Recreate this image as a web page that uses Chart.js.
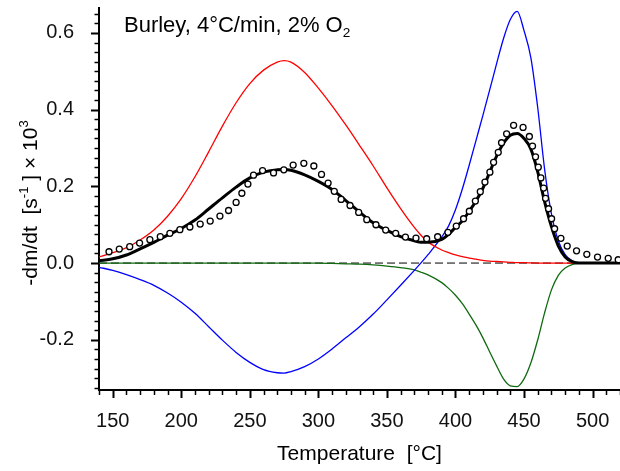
<!DOCTYPE html>
<html>
<head>
<meta charset="utf-8">
<script src="https://cdn.jsdelivr.net/npm/chart.js@4.4.1/dist/chart.umd.min.js"></script>
<style>
  html, body { margin: 0; padding: 0; background: #fff; }
  #wrap { width: 620px; height: 471px; }
</style>
</head>
<body>
<div id="wrap"><canvas id="chart" width="620" height="471"></canvas></div>
<script>
// temperature grid of the model curves [°C]
const modelT = [140,150,160,170,180,190,200,210,220,230,240,250,260,270,275,280,
  290,300,310,320,330,340,350,360,370,375,380,390,
  395,400,405,410,415,420,425,430,435,440,445,450,455,460,465,470,475,480,485,490,
  500,510,520];

// red, first reaction step
const redCurve = [.016,.027,.040,.060,.086,.122,.168,.225,.290,.357,.418,.468,.503,.524,.528,.524,
  .497,.456,.410,.360,.307,.253,.196,.142,.093,.072,.055,.034,
  .027,.021,.017,.013,.010,.007,.005,.004,.003,.002,.001,.001,.0005,0,0,0,0,0,0,0,
  0,0,0];

// blue, second step
const blueCurve = [-.011,-.019,-.030,-.043,-.058,-.078,-.102,-.131,-.166,-.201,-.233,-.259,-.278,-.286,-.287,-.283,
  -.270,-.250,-.224,-.195,-.166,-.133,-.096,-.058,-.019,.001,.022,.068,
  .097,.139,.193,.255,.320,.385,.452,.520,.585,.635,.656,.606,.535,.405,.245,.128,.058,.022,.006,.001,
  0,0,0];

// green, third step
const greenCurve = [0,0,0,0,0,0,0,0,0,0,0,0,0,0,0,0,
  0,0,-.001,-.002,-.003,-.005,-.008,-.012,-.018,-.024,-.031,-.051,
  -.066,-.084,-.106,-.133,-.162,-.195,-.232,-.268,-.302,-.320,-.322,-.302,-.260,-.200,-.130,-.070,-.032,-.013,-.004,-.001,
  0,0,0];

// black, total fit
const fitCurve = [.006,.011,.021,.037,.054,.073,.090,.112,.141,.170,.198,.222,.237,.243,.244,.242,
  .230,.213,.192,.163,.133,.105,.085,.069,.058,.054,.054,.062,
  .075,.093,.110,.135,.162,.195,.237,.279,.312,.333,.338,.325,.297,.238,.160,.095,.045,.016,.004,0,
  0,0,0];

// measured points (circles)
const expT = [147.3,154.8,162.4,169.6,177.1,184.7,191.7,199.0,206.3,213.8,221.1,228.2,234.5,240.0,244.2,248.6,
  252.7,259.3,267.3,274.8,281.6,289.4,296.7,302.3,307.1,311.6,316.6,323.1,329.4,335.3,342.0,349.1,
  356.4,363.5,371.2,379.0,387.0,394.5,400.6,405.9,410.1,414.5,418.1,421.5,425.1,427.8,431.2,433.6,
  437.3,442.4,449.3,453.9,456.2,458.4,460.4,462.3,464.3,465.7,467.9,470.1,472.3,476.9,481.5,488.3,
  495.8,503.6,511.4,518.7];
const expRate = [.0295,.0365,.0426,.052,.061,.0687,.0774,.087,.094,.1017,.1095,.1226,.137,.158,.182,.206,
  .229,.241,.235,.243,.2555,.260,.253,.231,.2086,.187,.166,.150,.132,.113,.0999,.086,
  .0774,.0678,.065,.0634,.0686,.080,.0965,.1155,.135,.1617,.186,.211,.237,.2626,.2886,.3137,
  .337,.359,.3535,.330,.305,.277,.250,.222,.1956,.1687,.1416,.1155,.0894,.0644,.0443,.032,
  .0227,.0156,.0123,.0086];

const xTicks = [150,200,250,300,350,400,450,500];
const yTicks = [-0.2,0.0,0.2,0.4,0.6];
const xRange = [140, 520];
const yRange = [-0.331, 0.665];

const FONT = "'Liberation Sans', Arial, Helvetica, sans-serif";

function pts(xs, ys) {
  return xs.map((x, i) => ({ x: x, y: ys[i] }));
}

// draws a string made of normal / sup / sub pieces
function richWidth(ctx, parts, size) {
  let w = 0;
  parts.forEach(p => {
    ctx.font = (p[1] ? size * 0.62 : size) + 'px ' + FONT;
    w += ctx.measureText(p[0]).width;
  });
  return w;
}
function drawRich(ctx, parts, x, y, size) {
  parts.forEach(p => {
    const s = p[1] ? size * 0.62 : size;
    ctx.font = s + 'px ' + FONT;
    let dy = 0;
    if (p[1] === 'sup') dy = -size * 0.45;
    if (p[1] === 'sub') dy = size * 0.22;
    ctx.fillText(p[0], x, y + dy);
    x += ctx.measureText(p[0]).width;
  });
}

const decor = {
  id: 'decor',
  afterDraw(chart) {
    const ctx = chart.ctx;
    const xs = chart.scales.x, ys = chart.scales.y;
    const area = chart.chartArea;
    ctx.save();
    ctx.strokeStyle = '#000';
    ctx.fillStyle = '#000';

    // y ticks, major and minor
    for (let v = -0.325; v <= yRange[1] + 1e-9; v += 0.025) {
      const yy = Math.round(ys.getPixelForValue(v)) + 0.5;
      const major = yTicks.some(t => Math.abs(t - v) < 1e-6);
      ctx.lineWidth = major ? 2 : 1.5;
      ctx.beginPath();
      ctx.moveTo(area.left, yy);
      ctx.lineTo(area.left - (major ? 8 : 4.5), yy);
      ctx.stroke();
    }
    // x ticks, major and minor
    for (let v = xRange[0]; v <= xRange[1]; v += 10) {
      const xx = Math.round(xs.getPixelForValue(v)) + 0.5;
      const major = xTicks.indexOf(v) >= 0;
      ctx.lineWidth = major ? 2 : 1.5;
      ctx.beginPath();
      ctx.moveTo(xx, area.bottom);
      ctx.lineTo(xx, area.bottom + (major ? 8 : 5));
      ctx.stroke();
    }

    ctx.textBaseline = 'alphabetic';
    ctx.textAlign = 'left';
    // title inside the plot
    drawRich(ctx, [['Burley, 4°C/min, 2% O'], ['2', 'sub']], 124, 32, 22);

    // x axis title
    const xt = [['Temperature  [°C]']];
    const xw = richWidth(ctx, xt, 21);
    drawRich(ctx, xt, (area.left + area.right) / 2 - xw / 2, 460, 21);

    // y axis title, rotated
    const yt = [['-dm/dt  [s'], ['-1', 'sup'], [' ] \u00d7 10'], ['3', 'sup']];
    const yw = richWidth(ctx, yt, 21);
    ctx.translate(37, 203);
    ctx.rotate(-Math.PI / 2);
    drawRich(ctx, yt, -yw / 2, 0, 21);
    ctx.restore();
  }
};

new Chart(document.getElementById('chart'), {
  type: 'scatter',
  data: {
    datasets: [
      {
        label: 'measured',
        data: pts(expT, expRate),
        showLine: false,
        pointStyle: 'circle',
        pointRadius: 3,
        pointBorderWidth: 1.3,
        pointBorderColor: '#000',
        pointBackgroundColor: '#fff',
        clip: 6
      },
      {
        label: 'fit',
        data: pts(modelT, fitCurve),
        showLine: true,
        borderColor: '#000',
        borderWidth: 3,
        pointRadius: 0,
        cubicInterpolationMode: 'monotone'
      },
      {
        label: 'step 1',
        data: pts(modelT, redCurve),
        showLine: true,
        borderColor: '#ff0000',
        borderWidth: 1.3,
        pointRadius: 0,
        cubicInterpolationMode: 'monotone'
      },
      {
        label: 'step 2',
        data: pts(modelT, blueCurve),
        showLine: true,
        borderColor: '#0000ff',
        borderWidth: 1.3,
        pointRadius: 0,
        cubicInterpolationMode: 'monotone'
      },
      {
        label: 'step 3',
        data: pts(modelT, greenCurve),
        showLine: true,
        borderColor: '#106a10',
        borderWidth: 1.3,
        pointRadius: 0,
        cubicInterpolationMode: 'monotone'
      },
      {
        label: 'zero',
        data: pts(xRange, [0, 0]),
        showLine: true,
        borderColor: '#000',
        borderWidth: 1,
        borderDash: [8, 4],
        pointRadius: 0
      }
    ]
  },
  options: {
    responsive: false,
    animation: false,
    devicePixelRatio: 1,
    layout: { autoPadding: false, padding: { top: 8, right: 0, left: 0, bottom: 0 } },
    plugins: {
      legend: { display: false },
      tooltip: { enabled: false }
    },
    scales: {
      x: {
        type: 'linear',
        min: xRange[0],
        max: xRange[1],
        afterBuildTicks: s => { s.ticks = xTicks.map(v => ({ value: v })); },
        afterFit: s => { s.height = 81; s.paddingLeft = 0; s.paddingRight = 0; },
        grid: { display: false },
        border: { display: true, color: '#000', width: 2 },
        ticks: {
          color: '#111',
          padding: 11,
          maxRotation: 0,
          font: { family: FONT, size: 20 }
        }
      },
      y: {
        type: 'linear',
        min: yRange[0],
        max: yRange[1],
        afterBuildTicks: s => { s.ticks = yTicks.map(v => ({ value: v })); },
        afterFit: s => { s.width = 99; s.paddingTop = 0; s.paddingBottom = 0; },
        grid: { display: false },
        border: { display: true, color: '#000', width: 2 },
        ticks: {
          color: '#111',
          padding: 17,
          font: { family: FONT, size: 20 },
          callback: v => v.toFixed(1)
        }
      }
    }
  },
  plugins: [decor]
});
</script>
</body>
</html>
